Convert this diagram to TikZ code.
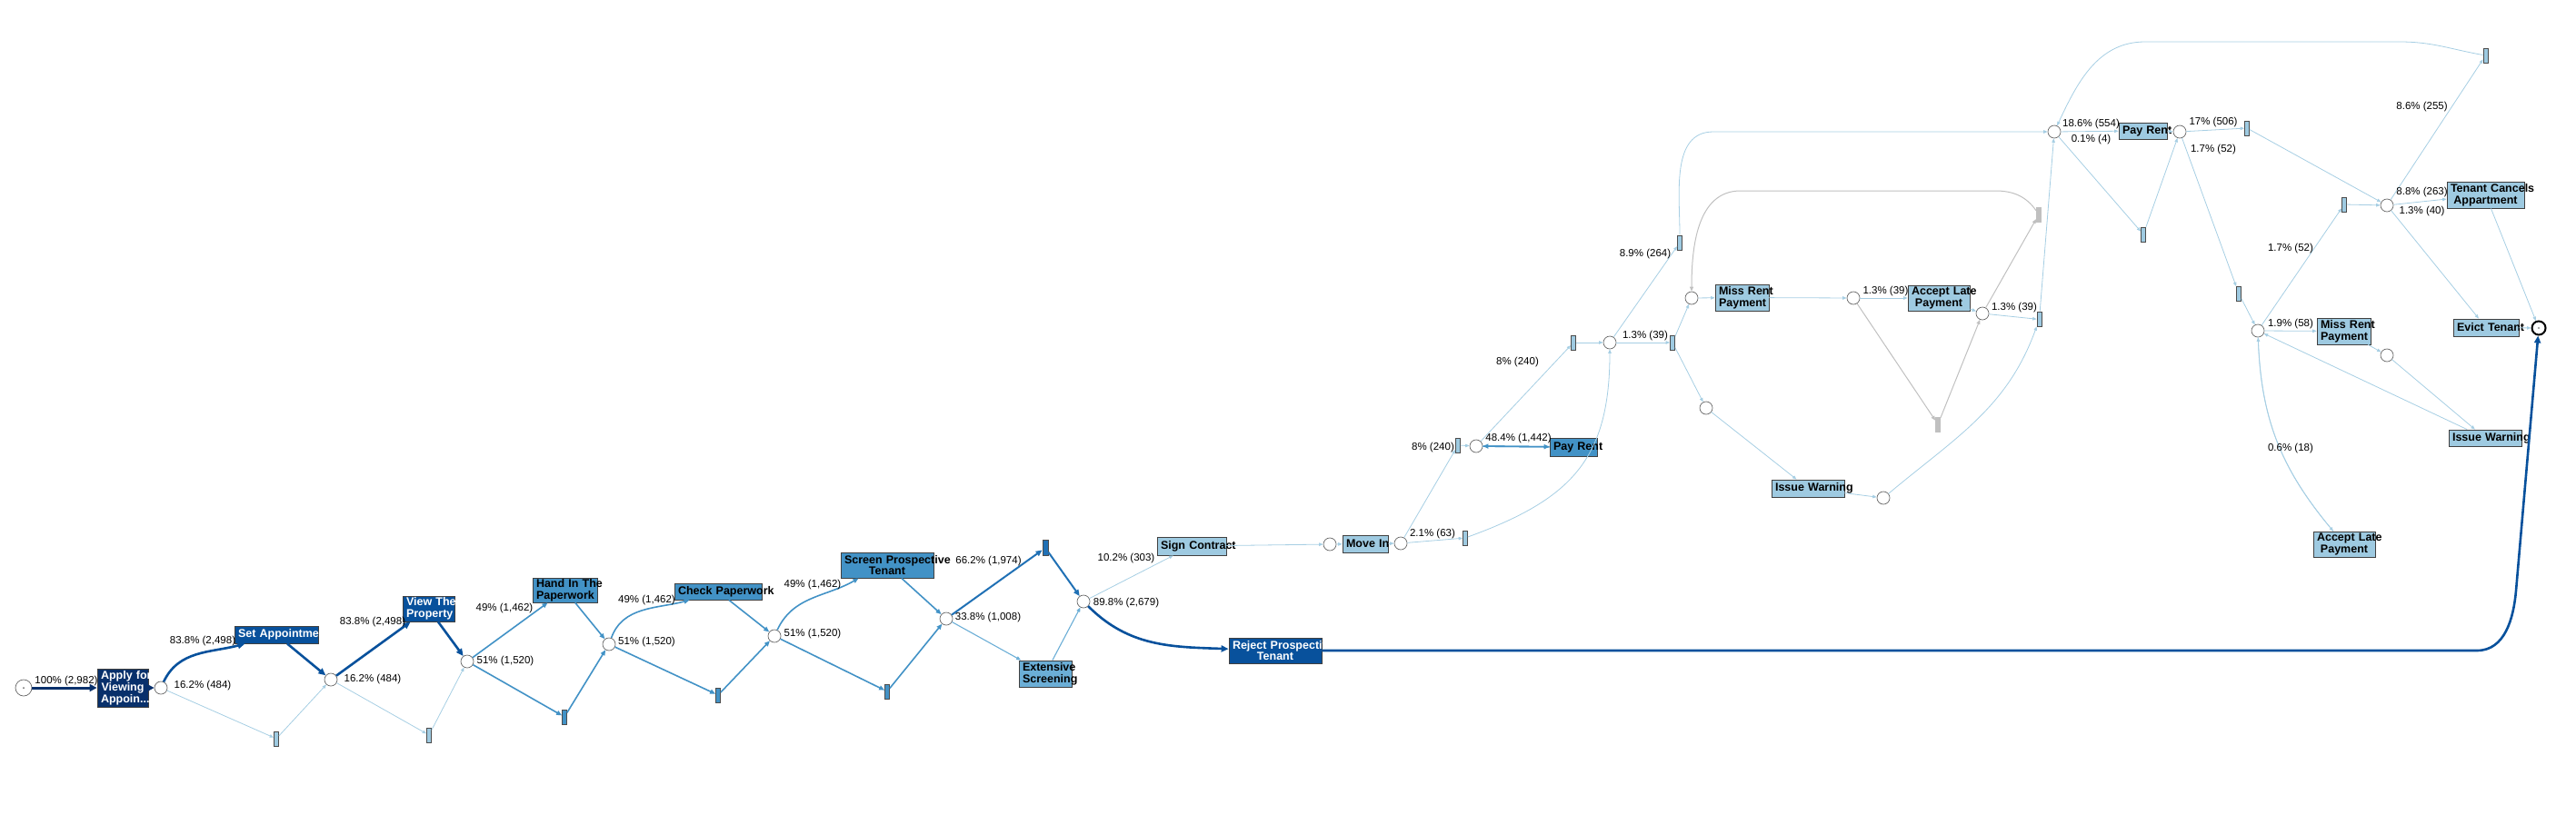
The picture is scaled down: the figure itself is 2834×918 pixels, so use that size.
\documentclass[tikz,border=0pt]{standalone}
\usepackage{fontspec}
\setmainfont{Liberation Sans}
\usetikzlibrary{arrows.meta,positioning,calc}

\definecolor{navy}{HTML}{08306B}
\definecolor{dkblue}{HTML}{08519C}
\definecolor{mdblue}{HTML}{2171B5}
\definecolor{blfour}{HTML}{4292C6}
\definecolor{blthree}{HTML}{6BAED6}
\definecolor{ltblue}{HTML}{9ECAE1}
\definecolor{edgeblue}{HTML}{A6CEE3}
\definecolor{silver}{HTML}{C0C0C0}

\hyphenpenalty=10000

\begin{document}
\begin{tikzpicture}[
    x=1pt, y=1pt,
    place/.style={circle, draw=black!60, fill=white, line width=0.7pt, minimum size=14pt, inner sep=0pt},
    startplace/.style={place, minimum size=18pt},
    endplace/.style={place, draw=black, line width=2pt, minimum size=15pt},
    bar/.style={rectangle, draw=black!70, line width=0.7pt, fill=ltblue, minimum width=5pt, minimum height=16pt, inner sep=0pt},
    graybar/.style={bar, draw=silver, fill=silver},
    act/.style={rectangle, draw=black!75, line width=0.8pt, fill=ltblue, align=center, inner xsep=4pt, inner ysep=0pt, font=\fontsize{12.5}{12.8}\selectfont\bfseries},
    lbl/.style={inner sep=0pt, font=\fontsize{11.5}{12}\selectfont},
    navyflow/.style={draw=navy, line width=3pt, -{Triangle[length=8pt,width=8pt]}},
    bigflow/.style={draw=dkblue, line width=2.6pt, -{Triangle[length=8pt,width=7pt]}},
    darkflow/.style={draw=mdblue, line width=2pt, -{Triangle[length=7pt,width=6pt]}},
    midflow/.style={draw=blfour, line width=1.6pt, -{Triangle[length=6pt,width=5pt]}},
    lowflow/.style={draw=blthree, line width=1.1pt, -{Triangle[length=5pt,width=4pt]}},
    thinflow/.style={draw=edgeblue, line width=0.8pt, -{Triangle[length=4.5pt,width=3.5pt]}},
    grayflow/.style={draw=silver, line width=1pt, -{Triangle[length=5pt,width=4pt]}}
]
\useasboundingbox (0,0) rectangle (2834,-918);

% Places
\node[startplace] (start) at (26,-757) {};
\node[place] (p1) at (177,-757) {};
\node[place] (p2) at (364,-748) {};
\node[place] (p3) at (514,-728) {};
\node[place] (p4) at (670,-709) {};
\node[place] (p5) at (852,-700) {};
\node[place] (p6) at (1041,-681) {};
\node[place] (p7) at (1192,-662) {};
\node[place] (p8) at (1463,-599) {};
\node[place] (p9) at (1541,-598) {};
\node[place] (p10) at (1624,-491) {};
\node[place] (p11) at (2072,-548) {};
\node[place] (p12) at (1771,-377) {};
\node[place] (p13) at (1861,-328) {};
\node[place] (p14) at (2039,-328) {};
\node[place] (p15) at (1877,-449) {};
\node[place] (p16) at (2181,-345) {};
\node[place] (p17) at (2260,-145) {};
\node[place] (p18) at (2398,-145) {};
\node[place] (p19) at (2484,-364) {};
\node[place] (p20) at (2626,-391) {};
\node[place] (p21) at (2626,-226) {};
\node[endplace] (finish) at (2793,-361) {};
\fill[black!60] (start) circle (1);
\fill[black!45] (finish) circle (1.2);

% Activities
\node[act, fill=navy, text=white, text width=48pt, minimum height=42pt] (apply) at (135,-757) {Apply~for\\Viewing\\Appoin...};
\node[act, fill=dkblue, text=white, text width=84pt, minimum height=19pt] (setappt) at (304,-698.5) {Set~Appointment};
\node[act, fill=dkblue, text=white, text width=49pt, minimum height=28pt] (view) at (471.5,-670) {View~The\\Property};
\node[act, fill=blfour, text width=63pt, minimum height=27pt] (handin) at (621.5,-649.5) {Hand~In~The\\Paperwork};
\node[act, fill=blfour, text width=88pt, minimum height=18pt] (check) at (790,-651) {Check~Paperwork};
\node[act, fill=blfour, text width=94pt, minimum height=28pt] (screen) at (976,-622) {Screen~Prospective\\Tenant};
\node[act, fill=blthree, text width=50pt, minimum height=29pt] (extscreen) at (1150,-741.5) {Extensive\\Screening};
\node[act, text width=68pt, minimum height=20pt] (sign) at (1311,-601) {Sign~Contract};
\node[act, fill=dkblue, text=white, text width=94pt, minimum height=28pt] (reject) at (1403,-716) {Reject~Prospective\\Tenant};
\node[act, text width=42pt, minimum height=19pt] (movein) at (1502,-598.5) {Move~In};
\node[act, fill=blfour, text width=44pt, minimum height=20pt] (payrent) at (1731,-492) {Pay~Rent};
\node[act, text width=51pt, minimum height=29pt] (missrent) at (1916.5,-327.5) {Miss~Rent\\Payment};
\node[act, text width=60pt, minimum height=28pt] (acceptlate) at (2133,-328) {Accept~Late\\Payment};
\node[act, text width=72pt, minimum height=19pt] (warn) at (1989,-537.5) {Issue~Warning};
\node[act, text width=45pt, minimum height=18pt] (payrentb) at (2357.5,-144) {Pay~Rent};
\node[act, text width=51pt, minimum height=29pt] (missrentb) at (2578.5,-364.5) {Miss~Rent\\Payment};
\node[act, text width=60pt, minimum height=28pt] (acceptlateb) at (2579,-599) {Accept~Late\\Payment};
\node[act, text width=72pt, minimum height=18pt] (warnb) at (2734,-482) {Issue~Warning};
\node[act, text width=77pt, minimum height=29pt] (cancels) at (2734.5,-214.5) {Tenant~Cancels\\Appartment};
\node[act, text width=64pt, minimum height=19pt] (evict) at (2735,-360.5) {Evict~Tenant};

% Silent transitions
\node[bar] (skip1) at (304,-813) {};
\node[bar] (skip2) at (472,-809) {};
\node[bar, fill=blfour] (skip3) at (621,-789) {};
\node[bar, fill=blfour] (skip4) at (790,-765) {};
\node[bar, fill=blfour] (skip5) at (976,-761) {};
\node[bar, fill=mdblue, minimum width=6pt, minimum height=17pt] (skip6) at (1150,-603) {};
\node[bar] (tau1) at (1612,-592) {};
\node[bar] (tau2) at (1604,-490) {};
\node[bar] (tau3) at (1731,-377) {};
\node[bar] (tau4) at (1840,-377) {};
\node[bar] (tau5) at (1848,-267) {};
\node[bar] (tau6) at (2243.5,-351.5) {};
\node[bar] (tau7) at (2472,-141) {};
\node[bar] (tau8) at (2358,-258) {};
\node[bar] (tau9) at (2463,-323) {};
\node[bar] (tau10) at (2579,-225) {};
\node[bar] (tau11) at (2734.5,-61) {};
\node[graybar] (g1) at (2132,-467) {};
\node[graybar] (g2) at (2243,-236) {};

% Viewing and paperwork
\draw[navyflow] (start) -- (apply);
\draw[navyflow] (apply) -- (p1);
\draw[bigflow] (p1) to[out=65,in=195] ([xshift=12pt]setappt.south west);
\draw[thinflow] (p1) -- (skip1);
\draw[bigflow] (setappt) -- (p2);
\draw[thinflow] (skip1) -- (p2);
\draw[bigflow] (p2) -- (view);
\draw[thinflow] (p2) -- (skip2);
\draw[bigflow] (view) -- (p3);
\draw[thinflow] (skip2) -- (p3);
\draw[midflow] (p3) -- (handin);
\draw[midflow] (p3) -- (skip3);
\draw[midflow] (handin) -- (p4);
\draw[midflow] (skip3) -- (p4);
\draw[midflow] (p4) to[out=70,in=195] ([xshift=17pt]check.south west);
\draw[midflow] (p4) -- (skip4);
\draw[midflow] (check) -- (p5);
\draw[midflow] (skip4) -- (p5);
\draw[midflow] (p5) to[out=65,in=210] ([xshift=20pt]screen.south west);
\draw[midflow] (p5) -- (skip5);
\draw[midflow] (screen) -- (p6);
\draw[midflow] (skip5) -- (p6);

% Screening decision
\draw[darkflow] (p6) -- (skip6);
\draw[lowflow] (p6) -- (extscreen);
\draw[darkflow] (skip6) -- (p7);
\draw[lowflow] (extscreen) -- (p7);
\draw[thinflow] (p7) -- (sign);
\draw[bigflow] (p7) to[out=-45,in=178] (reject);
\draw[bigflow] (reject) -- (2725,-716) to[out=0,in=265] (2768,-650) -- (finish);

% Tenancy
\draw[thinflow] (sign) -- (p8);
\draw[thinflow] (p8) -- (movein);
\draw[thinflow] (movein) -- (p9);
\draw[thinflow] (p9) to[out=5,in=185] (tau1);
\draw[thinflow] (p9) -- (tau2);
\draw[thinflow] (tau2) -- (p10);
\draw[midflow] (p10) -- (payrent);
\draw[midflow] (payrent) -- (p10);
\draw[thinflow] (p10) -- (tau3);
\draw[thinflow] (tau3) -- (p12);
\draw[thinflow] (tau1) to[out=20,in=-90,looseness=1.2] (p12);
\draw[thinflow] (p12) -- (tau5);
\draw[thinflow] (p12) -- (tau4);
\draw[thinflow] (tau4) -- (p13);
\draw[thinflow] (tau4) -- (p15);
\draw[thinflow] (p13) -- (missrent);
\draw[thinflow] (missrent) -- (p14);
\draw[thinflow] (p14) -- (acceptlate);
\draw[grayflow] (p14) -- (g1);
\draw[thinflow] (acceptlate) -- (p16);
\draw[grayflow] (g1) -- (p16);
\draw[thinflow] (p16) -- (tau6);
\draw[grayflow] (p16) -- (g2);
\draw[grayflow] (g2) to[out=125,in=0] (2195,-210) -- (1915,-210) to[out=180,in=90] (p13);
\draw[thinflow] (p15) -- (warn);
\draw[thinflow] (warn) -- (p11);
\draw[thinflow] (p11) to[out=40,in=-110] (tau6);
\draw[thinflow] (tau6) -- (p17);
\draw[thinflow] (tau5) to[out=90,in=180] (1885,-145) -- (p17);

% Rent loop and ending
\draw[thinflow] (p17) -- (payrentb);
\draw[thinflow] (p17) -- (tau8);
\draw[thinflow] (tau8) -- (p18);
\draw[thinflow] (payrentb) -- (p18);
\draw[thinflow] (p18) -- (tau7);
\draw[thinflow] (p18) -- (tau9);
\draw[thinflow] (tau7) -- (p21);
\draw[thinflow] (tau9) -- (p19);
\draw[thinflow] (p19) -- (tau10);
\draw[thinflow] (tau10) -- (p21);
\draw[thinflow] (p19) -- (missrentb);
\draw[thinflow] (missrentb) -- (p20);
\draw[thinflow] (p20) -- (warnb);
\draw[thinflow] (warnb) -- (p19);
\draw[thinflow] (p19) to[out=-88,in=130] (acceptlateb);
\draw[thinflow] (acceptlateb) to[out=130,in=-88] (p19);
\draw[thinflow] (p21) -- (cancels);
\draw[thinflow] (p21) -- (evict);
\draw[thinflow] (p21) -- (tau11);
\draw[thinflow] (tau11) to[out=170,in=0] (2640,-46) -- (2360,-46) to[out=180,in=65] (p17);
\draw[thinflow] (cancels) -- (finish);
\draw[thinflow] (evict) -- (finish);

% Frequencies
\node[lbl] (f1) at (73,-750) {100\% (2,982)};
\node[lbl] (f2) at (223,-755) {16.2\% (484)};
\node[lbl] (f3) at (223,-706) {83.8\% (2,498)};
\node[lbl] (f4) at (410,-748) {16.2\% (484)};
\node[lbl] (f5) at (410,-685) {83.8\% (2,498)};
\node[lbl] (f6) at (556,-728) {51\% (1,520)};
\node[lbl] (f7) at (555,-670) {49\% (1,462)};
\node[lbl] (f8) at (711.5,-707) {51\% (1,520)};
\node[lbl] (f9) at (711.5,-661) {49\% (1,462)};
\node[lbl] (f10) at (894,-698) {51\% (1,520)};
\node[lbl] (f11) at (894,-644) {49\% (1,462)};
\node[lbl] (f12) at (1087,-680) {33.8\% (1,008)};
\node[lbl] (f13) at (1087.5,-618) {66.2\% (1,974)};
\node[lbl] (f14) at (1239,-664) {89.8\% (2,679)};
\node[lbl] (f15) at (1239,-615) {10.2\% (303)};
\node[lbl] (f16) at (1576,-588) {2.1\% (63)};
\node[lbl] (f17) at (1576.5,-493) {8\% (240)};
\node[lbl] (f18) at (1670.5,-483) {48.4\% (1,442)};
\node[lbl] (f19) at (1669.5,-399) {8\% (240)};
\node[lbl] (f20) at (1810,-370) {1.3\% (39)};
\node[lbl] (f21) at (1810,-280) {8.9\% (264)};
\node[lbl] (f22) at (2074.5,-321) {1.3\% (39)};
\node[lbl] (f23) at (2216,-339) {1.3\% (39)};
\node[lbl] (f24) at (2300.5,-137) {18.6\% (554)};
\node[lbl] (f25) at (2300.5,-154) {0.1\% (4)};
\node[lbl] (f26) at (2435,-135) {17\% (506)};
\node[lbl] (f27) at (2435,-165) {1.7\% (52)};
\node[lbl] (f28) at (2520,-357) {1.9\% (58)};
\node[lbl] (f29) at (2520,-274) {1.7\% (52)};
\node[lbl] (f30) at (2520,-494) {0.6\% (18)};
\node[lbl] (f31) at (2664.5,-212) {8.8\% (263)};
\node[lbl] (f32) at (2664.5,-233) {1.3\% (40)};
\node[lbl] (f33) at (2664.5,-118) {8.6\% (255)};

\end{tikzpicture}
\end{document}
